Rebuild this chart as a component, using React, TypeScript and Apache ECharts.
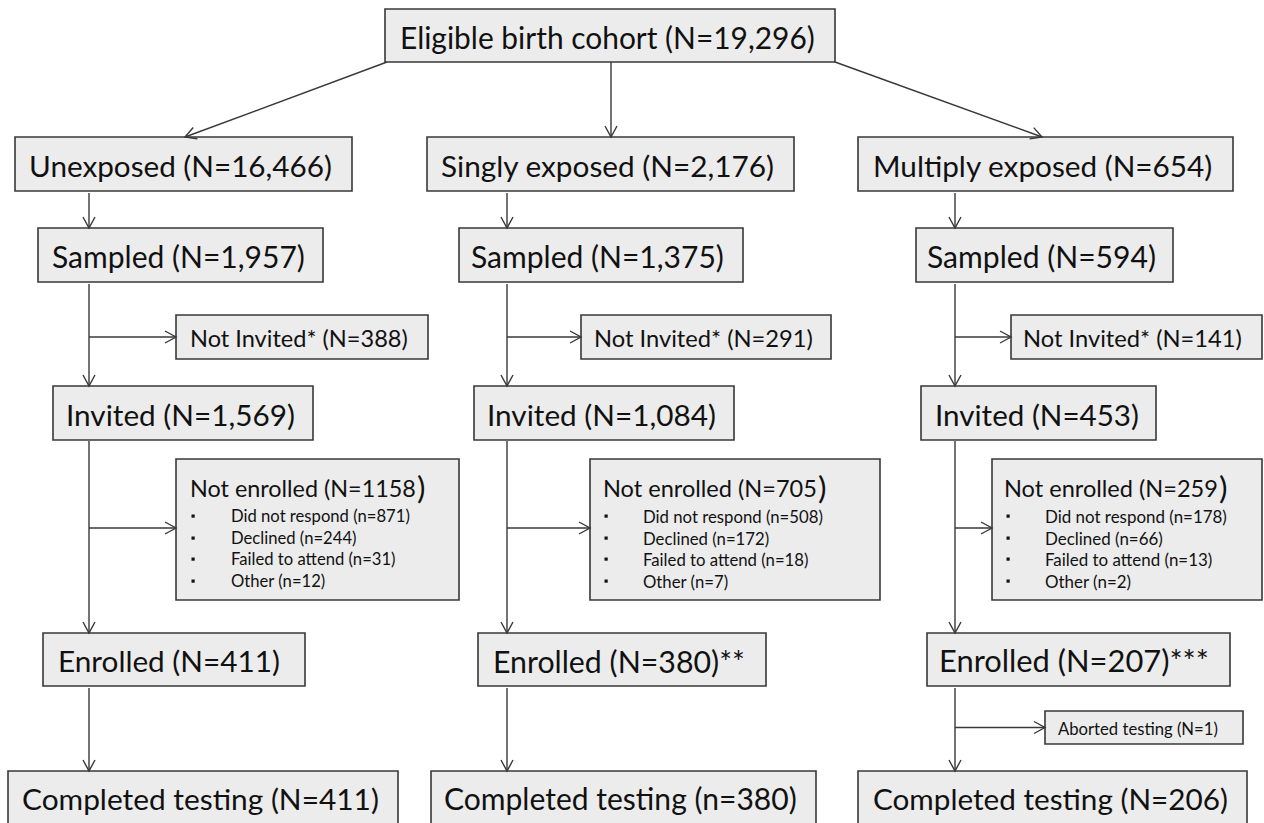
import React, { useEffect, useRef } from "react";
import * as echarts from "echarts";

// ---------- data ----------
const cohortLabel = "Eligible birth cohort";
const cohortTotal = "19,296";
const arms = ["Unexposed", "Singly exposed", "Multiply exposed"];
const armCounts = ["16,466", "2,176", "654"];
const sampledCounts = ["1,957", "1,375", "594"];
const notInvitedCounts = ["388", "291", "141"];
const invitedCounts = ["1,569", "1,084", "453"];
const notEnrolledCounts = ["1158", "705", "259"];
const noResponseCounts = ["871", "508", "178"];
const declinedCounts = ["244", "172", "66"];
const failedAttendCounts = ["31", "18", "13"];
const otherCounts = ["12", "7", "2"];
const enrolledCounts = ["411", "380", "207"];
const enrolledMarks = ["", "**", "***"];
const abortedCounts = ["", "", "1"];
const completedCounts = ["411", "380", "206"];
const completedSymbols = ["N", "n", "N"];

// ---------- layout (pixels) ----------
const FONT = "Lato";
const LINE = "#383838";
const FILL = "#ececec";
const TEXT = "#111111";

const topBox = [385, 9, 835, 62];
const topTextX = 400;
const topTextW = 415;
const colX = [89, 507, 955];
const exposedBox = [[15, 137, 352, 191], [427, 137, 794, 191], [858, 137, 1233, 191]];
const exposedTextX = [29, 441, 873];
const exposedTextW = [303, 334, 340];
const sampledBox = [[38, 228, 323, 282], [459, 228, 743, 282], [916, 228, 1173, 282]];
const sampledTextX = [52, 471, 927];
const sampledTextW = [253, 253, 229];
const notInvBox = [[176, 315, 428, 359], [581, 315, 831, 359], [1011, 315, 1262, 359]];
const notInvTextX = [190, 594, 1023];
const notInvTextW = [218, 219, 219];
const invitedBox = [[53, 386, 313, 440], [474, 386, 734, 440], [921, 386, 1156, 440]];
const invitedTextX = [66, 487, 935];
const invitedTextW = [229, 229, 204];
const neBox = [[176, 459, 459, 600], [590, 459, 880, 600], [992, 459, 1262, 600]];
const neTitleX = [190, 603, 1004];
const neTitleW = [226, 214, 214];
const neTitleY = 488;
const neBulletX = [193, 606, 1008];
const neReasonX = [231, 643, 1045];
const neReasonW = [179, 180, 182];
const neReasonY = [516, 538, 559, 581];
const enrolledBox = [[43, 633, 305, 686], [478, 633, 766, 686], [927, 633, 1230, 686]];
const enrolledTextX = [58, 493, 939];
const enrolledTextW = [222, 252, 270];
const abortedBox = [1045, 711, 1243, 744];
const abortedTextX = 1058;
const abortedTextW = 160;
const completedBox = [[8, 771, 398, 827], [431, 771, 816, 827], [858, 771, 1247, 827]];
const completedTextX = [22, 444, 873];
const completedTextW = [357, 353, 355];

let ctx: CanvasRenderingContext2D | null = null;
function measure(t: string, size: number) {
  if (!ctx) ctx = document.createElement("canvas").getContext("2d");
  ctx!.font = `${size}px ${FONT}`;
  return ctx!.measureText(t).width;
}
function fit(t: string, w: number) {
  return (100 * w) / measure(t, 100);
}

function rect(b: number[]) {
  return {
    type: "rect",
    shape: { x: b[0], y: b[1], width: b[2] - b[0], height: b[3] - b[1] },
    style: { fill: FILL, stroke: LINE, lineWidth: 1.6 },
    z: 5,
  };
}
function text(t: string, x: number, y: number, size: number) {
  return {
    type: "text",
    x,
    y,
    style: { text: t, fontSize: size, fontFamily: FONT, fill: TEXT, align: "left", verticalAlign: "middle" },
    z: 10,
  };
}
function fittedText(t: string, x: number, w: number, y: number) {
  return text(t, x, y, fit(t, w));
}
function line(x1: number, y1: number, x2: number, y2: number) {
  return { type: "line", shape: { x1, y1, x2, y2 }, style: { stroke: LINE, lineWidth: 1.4 }, z: 3 };
}
function arrow(x1: number, y1: number, x2: number, y2: number) {
  const dx = x2 - x1;
  const dy = y2 - y1;
  const len = Math.sqrt(dx * dx + dy * dy);
  const ux = dx / len;
  const uy = dy / len;
  const L = 11;
  const H = 6;
  const bx = x2 - ux * L;
  const by = y2 - uy * L;
  return [
    line(x1, y1, x2, y2),
    {
      type: "polyline",
      shape: { points: [[bx - uy * H, by + ux * H], [x2, y2], [bx + uy * H, by - ux * H]] },
      style: { stroke: LINE, lineWidth: 1.4, fill: null },
      z: 6,
    },
  ];
}
const cy = (b: number[]) => (b[1] + b[3]) / 2 + 1;

function buildElements() {
  const els: any[] = [];
  els.push(rect(topBox));
  els.push(fittedText(`${cohortLabel} (N=${cohortTotal})`, topTextX, topTextW, cy(topBox)));
  els.push(...arrow(387, 62, 185, 137));
  els.push(...arrow(611, 62, 611, 137));
  els.push(...arrow(835, 62, 1042, 137));

  for (let c = 0; c < 3; c++) {
    const x = colX[c];
    els.push(rect(exposedBox[c]));
    els.push(fittedText(`${arms[c]} (N=${armCounts[c]})`, exposedTextX[c], exposedTextW[c], cy(exposedBox[c])));
    els.push(...arrow(x, exposedBox[c][3] + 2, x, sampledBox[c][1]));

    els.push(rect(sampledBox[c]));
    els.push(fittedText(`Sampled (N=${sampledCounts[c]})`, sampledTextX[c], sampledTextW[c], cy(sampledBox[c])));
    els.push(...arrow(x, sampledBox[c][3] + 2, x, invitedBox[c][1]));
    els.push(...arrow(x, cy(notInvBox[c]) - 1, notInvBox[c][0], cy(notInvBox[c]) - 1));

    els.push(rect(notInvBox[c]));
    els.push(fittedText(`Not Invited* (N=${notInvitedCounts[c]})`, notInvTextX[c], notInvTextW[c], cy(notInvBox[c])));

    els.push(rect(invitedBox[c]));
    els.push(fittedText(`Invited (N=${invitedCounts[c]})`, invitedTextX[c], invitedTextW[c], cy(invitedBox[c])));
    els.push(...arrow(x, invitedBox[c][3] + 1, x, enrolledBox[c][1]));
    els.push(...arrow(x, 528, neBox[c][0], 528));

    els.push(rect(neBox[c]));
    const title = `Not enrolled (N=${notEnrolledCounts[c]}`;
    const ts = fit(title, neTitleW[c]);
    els.push(text(title, neTitleX[c], neTitleY, ts));
    els.push(text(")", neTitleX[c] + neTitleW[c] + 1, neTitleY - 1, ts * 1.35));
    const reasons = [
      `Did not respond (n=${noResponseCounts[c]})`,
      `Declined (n=${declinedCounts[c]})`,
      `Failed to attend (n=${failedAttendCounts[c]})`,
      `Other (n=${otherCounts[c]})`,
    ];
    const rs = fit(reasons[0], neReasonW[c]);
    reasons.forEach((r, i) => {
      els.push({
        type: "rect",
        shape: { x: neBulletX[c] - 1.5, y: neReasonY[i] - 1.5, width: 3.2, height: 3.2 },
        style: { fill: TEXT },
        z: 10,
      });
      els.push(text(r, neReasonX[c], neReasonY[i], rs));
    });

    els.push(rect(enrolledBox[c]));
    els.push(
      fittedText(`Enrolled (N=${enrolledCounts[c]})${enrolledMarks[c]}`, enrolledTextX[c], enrolledTextW[c], cy(enrolledBox[c]))
    );
    els.push(...arrow(x, enrolledBox[c][3] + 2, x, completedBox[c][1]));

    if (abortedCounts[c]) {
      const ay = (abortedBox[1] + abortedBox[3]) / 2;
      els.push(...arrow(x, ay, abortedBox[0], ay));
      els.push(rect(abortedBox));
      els.push(fittedText(`Aborted testing (N=${abortedCounts[c]})`, abortedTextX, abortedTextW, ay + 1));
    }

    els.push(rect(completedBox[c]));
    els.push(
      fittedText(
        `Completed testing (${completedSymbols[c]}=${completedCounts[c]})`,
        completedTextX[c],
        completedTextW[c],
        798
      )
    );
  }
  return els;
}

export default function App() {
  const ref = useRef<HTMLDivElement>(null);
  useEffect(() => {
    if (!ref.current) return;
    const chart = echarts.init(ref.current, undefined, { renderer: "svg" });
    chart.setOption({
      animation: false,
      backgroundColor: "#ffffff",
      graphic: { elements: buildElements() },
    });
    return () => chart.dispose();
  }, []);
  return (
    <div
      ref={ref}
      style={{ position: "fixed", left: 0, top: 0, width: 1264, height: 823, background: "#fff" }}
    />
  );
}
